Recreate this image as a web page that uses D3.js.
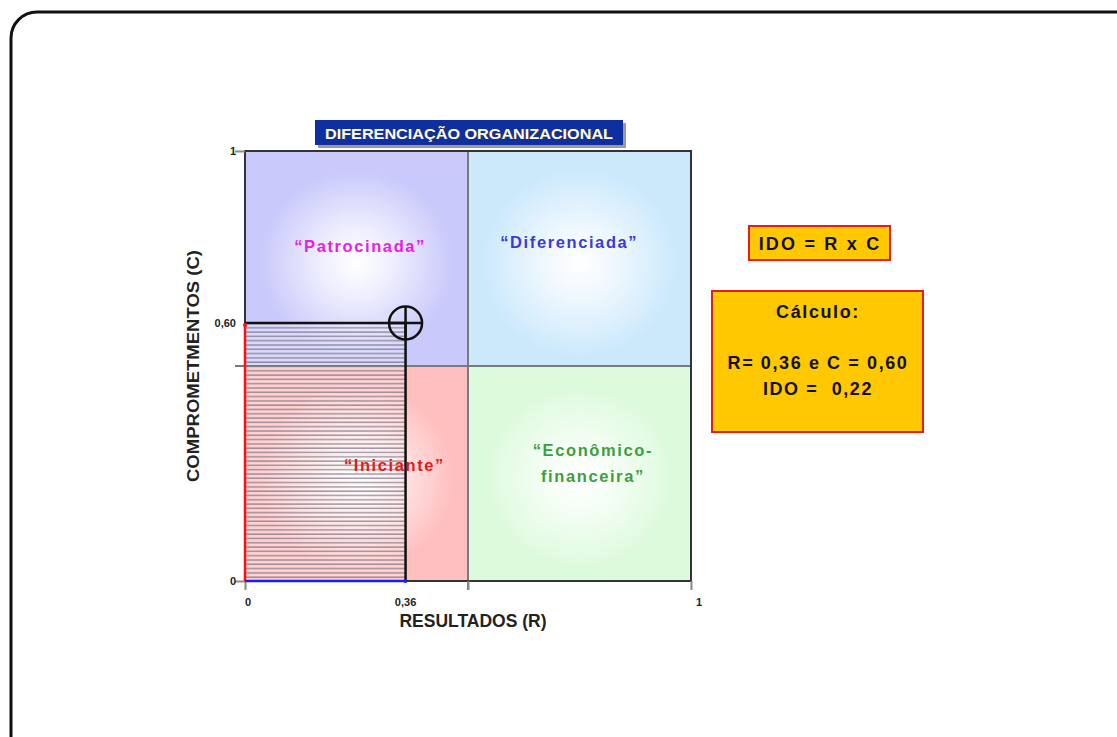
<!DOCTYPE html>
<html>
<head>
<meta charset="utf-8">
<script src="https://cdn.jsdelivr.net/npm/d3@7"></script>
<style>
  html, body { margin: 0; padding: 0; background: #fff; }
  svg { display: block; }
  text { font-family: "Liberation Sans", Arial, sans-serif; font-weight: bold; }
</style>
</head>
<body>
<svg id="chart" width="1117" height="737"></svg>
<script>
// Quadrant categories of the organisational differentiation matrix
const quadNames  = ["“Patrocinada”", "“Diferenciada”", "“Iniciante”", "“Econômico-financeira”"];
const quadLines  = [["“Patrocinada”"], ["“Diferenciada”"], ["“Iniciante”"], ["“Econômico-", "financeira”"]];
const quadX0     = [0, 0.5, 0, 0.5];
const quadY0     = [0.5, 0.5, 0, 0];
const quadColors = ["#c9c9fb", "#cce9fc", "#ffbfbf", "#dcfadc"];
const quadText   = ["#e61ee6", "#3b3bd6", "#e01b1b", "#3e9e3e"];

// Axis ticks
const xTicks = [0, 0.36, 1];
const xTickLabels = ["0", "0,36", "1"];
const yTicks = [0, 0.60, 1];
const yTickLabels = ["0", "0,60", "1"];

// Measured position of the organisation
const R = 0.36;
const C = 0.60;
const IDO = 0.22;

const svg = d3.select("#chart");

// Frame around the slide
svg.append("rect")
  .attr("x", 11).attr("y", 12).attr("width", 1130).attr("height", 760)
  .attr("rx", 26).attr("ry", 26)
  .attr("fill", "none").attr("stroke", "#111").attr("stroke-width", 3);

const plotL = 245, plotR = 691, plotT = 151, plotB = 581;
const x = d3.scaleLinear().domain([0, 1]).range([plotL, plotR]);
const y = d3.scaleLinear().domain([0, 1]).range([plotB, plotT]);

const defs = svg.append("defs");
quadColors.forEach((c, i) => {
  const g = defs.append("radialGradient").attr("id", "qg" + i)
    .attr("cx", "50%").attr("cy", "52%").attr("r", "62%");
  g.append("stop").attr("offset", "0%").attr("stop-color", "#ffffff");
  g.append("stop").attr("offset", "25%").attr("stop-color", d3.interpolateRgb("#ffffff", c)(0.3));
  g.append("stop").attr("offset", "70%").attr("stop-color", c);
  g.append("stop").attr("offset", "100%").attr("stop-color", c);
});

// Horizontal hatching for the R x C area
const hatch = defs.append("pattern").attr("id", "hatch")
  .attr("patternUnits", "userSpaceOnUse").attr("width", 8).attr("height", 4.3);
hatch.append("rect").attr("width", 8).attr("height", 4.3).attr("fill", "rgba(255,255,255,0.3)");
hatch.append("line").attr("x1", 0).attr("x2", 8).attr("y1", 1).attr("y2", 1)
  .attr("stroke", "rgba(90,80,100,0.55)").attr("stroke-width", 1.5);

// Title shadow + title box
svg.append("rect").attr("x", 318).attr("y", 123).attr("width", 308).attr("height", 25).attr("fill", "#9a9a9a");
svg.append("rect").attr("x", 315).attr("y", 120).attr("width", 308).attr("height", 25).attr("fill", "#0d2fa0");
svg.append("text").attr("x", 469).attr("y", 139).attr("text-anchor", "middle")
  .attr("font-size", 15).attr("fill", "#333").attr("transform", "translate(1,1)")
  .attr("textLength", 288).attr("lengthAdjust", "spacingAndGlyphs")
  .text("DIFERENCIAÇÃO ORGANIZACIONAL");
svg.append("text").attr("x", 469).attr("y", 139).attr("text-anchor", "middle")
  .attr("font-size", 15).attr("fill", "#ffffff")
  .attr("textLength", 288).attr("lengthAdjust", "spacingAndGlyphs")
  .text("DIFERENCIAÇÃO ORGANIZACIONAL");

// Quadrants
const quads = svg.append("g");
quadNames.forEach((n, i) => {
  quads.append("rect")
    .attr("x", x(quadX0[i])).attr("y", y(quadY0[i] + 0.5))
    .attr("width", x(quadX0[i] + 0.5) - x(quadX0[i]))
    .attr("height", y(quadY0[i]) - y(quadY0[i] + 0.5))
    .attr("fill", `url(#qg${i})`);
});

// Hatched R x C rectangle
svg.append("rect")
  .attr("x", x(0)).attr("y", y(C))
  .attr("width", x(R) - x(0)).attr("height", y(0) - y(C))
  .attr("fill", "url(#hatch)");

// Mid gridlines
svg.append("line").attr("x1", x(0) - 10).attr("x2", x(1)).attr("y1", y(0.5)).attr("y2", y(0.5))
  .attr("stroke", "#7a7a7a").attr("stroke-width", 2);
svg.append("line").attr("x1", x(0.5)).attr("x2", x(0.5)).attr("y1", y(1)).attr("y2", y(0) + 9)
  .attr("stroke", "#7a7a7a").attr("stroke-width", 2);

// Outer plot frame
svg.append("rect").attr("x", x(0)).attr("y", y(1)).attr("width", x(1) - x(0)).attr("height", y(0) - y(1))
  .attr("fill", "none").attr("stroke", "#333").attr("stroke-width", 2);

// Axes
const xAxis = d3.axisBottom(x).tickValues([0, 0.5, 1]).tickFormat("").tickSize(9).tickSizeOuter(0);
const gx = svg.append("g").attr("transform", `translate(0,${y(0)})`).call(xAxis);
gx.select(".domain").remove();
gx.selectAll(".tick line").attr("stroke", "#8a8a8a").attr("stroke-width", 2);

const yAxis = d3.axisLeft(y).tickValues([0, 1]).tickFormat("").tickSize(10).tickSizeOuter(0);
const gy = svg.append("g").attr("transform", `translate(${x(0)},0)`).call(yAxis);
gy.select(".domain").remove();
gy.selectAll(".tick line").attr("stroke", "#8a8a8a").attr("stroke-width", 2);

// Tick labels
svg.selectAll(".xl").data(xTicks).enter().append("text")
  .attr("x", (d, i) => x(d) + (i === 2 ? 8 : 0)).attr("y", y(0) + 25)
  .attr("text-anchor", (d, i) => i === 0 ? "start" : "middle")
  .attr("font-size", 11).attr("fill", "#222")
  .text((d, i) => xTickLabels[i]);
svg.selectAll(".yl").data(yTicks).enter().append("text")
  .attr("x", x(0) - 9).attr("y", d => y(d) + 4)
  .attr("text-anchor", "end")
  .attr("font-size", 11).attr("fill", "#222")
  .text((d, i) => yTickLabels[i]);

// Rectangle outline for R x C
svg.append("path")
  .attr("d", `M${x(0)},${y(C)} H${x(R)} V${y(0)}`)
  .attr("fill", "none").attr("stroke", "#111").attr("stroke-width", 2.5);

// Coloured axis segments
svg.append("line").attr("x1", x(0)).attr("x2", x(0)).attr("y1", y(0)).attr("y2", y(C))
  .attr("stroke", "#ff1010").attr("stroke-width", 2.5);
svg.append("circle").attr("cx", x(0)).attr("cy", y(C) + 2).attr("r", 2).attr("fill", "#ff1010");
svg.append("line").attr("x1", x(0)).attr("x2", x(R)).attr("y1", y(0)).attr("y2", y(0))
  .attr("stroke", "#1a1aff").attr("stroke-width", 2.5);
svg.append("circle").attr("cx", x(R)).attr("cy", y(0)).attr("r", 2).attr("fill", "#1a1aff");

// Position marker
const mk = svg.append("g").attr("transform", `translate(${x(R)},${y(C)})`);
mk.append("circle").attr("r", 16.5).attr("fill", "none").attr("stroke", "#111").attr("stroke-width", 2.5);
mk.append("line").attr("x1", -16.5).attr("x2", 16.5).attr("stroke", "#111").attr("stroke-width", 2.5);
mk.append("line").attr("y1", -16.5).attr("y2", 16.5).attr("stroke", "#111").attr("stroke-width", 2.5);

// Quadrant labels
const labelPos = [[0.258, 0.765], [0.727, 0.775], [0.335, 0.255], [0.78, 0.29]];
quadLines.forEach((lines, i) => {
  const t = svg.append("text")
    .attr("x", x(labelPos[i][0])).attr("y", y(labelPos[i][1]))
    .attr("text-anchor", "middle").attr("font-size", 16.5)
    .attr("letter-spacing", 1.6).attr("fill", quadText[i]);
  lines.forEach((l, j) => {
    t.append("tspan").attr("x", x(labelPos[i][0])).attr("dy", j === 0 ? 0 : 26).text(l);
  });
});

// Axis titles
svg.append("text").attr("x", 473).attr("y", 627).attr("text-anchor", "middle")
  .attr("font-size", 17.5).attr("fill", "#222").text("RESULTADOS (R)");
svg.append("text").attr("transform", "translate(199,366) rotate(-90)")
  .attr("text-anchor", "middle").attr("font-size", 16).attr("fill", "#222")
  .attr("textLength", 232).attr("lengthAdjust", "spacingAndGlyphs")
  .text("COMPROMETMENTOS (C)");

// Formula box
svg.append("rect").attr("x", 749).attr("y", 226).attr("width", 141).attr("height", 34)
  .attr("fill", "#ffc800").attr("stroke", "#e02020").attr("stroke-width", 2);
svg.append("text").attr("x", 820).attr("y", 249.5).attr("text-anchor", "middle")
  .attr("font-size", 18).attr("letter-spacing", 2.2).attr("fill", "#111")
  .text("IDO = R x C");

// Calculation box
svg.append("rect").attr("x", 712).attr("y", 291).attr("width", 211).attr("height", 141)
  .attr("fill", "#ffc800").attr("stroke", "#e02020").attr("stroke-width", 2);
const fmt = v => v.toFixed(2).replace(".", ",");
const calc = ["Cálculo:", "", `R= ${fmt(R)} e C = ${fmt(C)}`, `IDO =  ${fmt(IDO)}`];
const cy0 = [318, 0, 368.5, 394.5];
calc.forEach((s, i) => {
  if (!s) return;
  svg.append("text").attr("x", 818).attr("y", cy0[i]).attr("text-anchor", "middle")
    .attr("font-size", 18).attr("letter-spacing", 1.6).attr("fill", "#111")
    .attr("xml:space", "preserve").style("white-space", "pre")
    .text(s);
});
</script>
</body>
</html>
